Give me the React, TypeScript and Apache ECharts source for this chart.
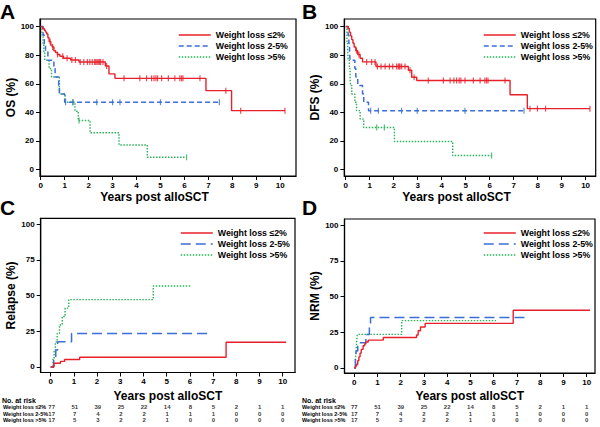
import React, { useEffect, useRef } from 'react';
import * as echarts from 'echarts';

// ---------- data ----------
const groups = ['Weight loss ≤2%', 'Weight loss 2-5%', 'Weight loss >5%'];
const xTicks = [0, 1, 2, 3, 4, 5, 6, 7, 8, 9, 10];
const yTicksSurv = [0, 20, 40, 60, 80, 100];
const yTicksCum = [0, 25, 50, 75, 100];

// OS (Kaplan-Meier steps: [years, %])
const osLow = [[0,100],[0.08,98.7],[0.15,97.4],[0.2,96.1],[0.25,94.8],[0.3,92.2],[0.35,89.6],[0.42,87],[0.48,85.7],[0.55,83.1],[0.62,81.8],[0.7,80.5],[0.8,79.2],[0.95,77.9],[1.25,76.6],[1.6,75.2],[2.7,72.4],[2.85,66.9],[3.1,63.8],[6.9,55.2],[7.97,41.2],[10.2,41.2]];
const osMid = [[0,100],[0.1,94.1],[0.15,88.2],[0.2,82.4],[0.3,76.5],[0.55,70.6],[0.6,64.7],[0.75,58.8],[0.78,52.9],[1.0,47.1],[7.46,47.1]];
const osHigh = [[0,100],[0.05,94.1],[0.1,88.2],[0.13,82.4],[0.17,76.5],[0.35,70.6],[0.45,64.7],[0.78,52.9],[1.02,47.1],[1.43,40.8],[1.57,34.3],[2.06,25.7],[3.27,17.2],[4.45,8.6],[6.09,8.6]];
const osLowCens = [0.39,0.5,0.7,0.92,1.1,1.3,1.45,1.65,1.8,1.95,2.05,2.15,2.25,2.3,2.35,2.4,2.45,2.5,2.6,2.75,3.48,4.14,4.42,4.63,4.73,4.81,4.88,5.05,5.33,5.6,5.81,5.88,5.94,6.65,7.73,8.35,10.2];
const osMidCens = [1.04,1.34,2.34,3.0,3.31,5.0,7.46];
const osHighCens = [1.35,1.6,6.09];

// DFS
const dfsLow = [[0,100],[0.1,98.7],[0.15,96.1],[0.2,93.5],[0.25,90.9],[0.3,88.3],[0.35,85.7],[0.42,83.1],[0.5,80.5],[0.6,77.9],[0.7,75.3],[1.26,72.1],[2.61,69.5],[2.75,64.6],[2.96,62.3],[6.85,52.3],[7.57,42.6],[10.18,42.6]];
const dfsMid = [[0,100],[0.1,94.1],[0.13,88.2],[0.16,82.4],[0.18,76.5],[0.38,70.6],[0.42,64.7],[0.5,58.8],[0.7,52.9],[0.75,47.1],[0.95,41.2],[7.43,41.2]];
const dfsHigh = [[0,100],[0.05,88.2],[0.08,82.4],[0.1,76.5],[0.15,70.6],[0.18,64.7],[0.2,58.8],[0.25,52.9],[0.38,47.1],[0.45,41.2],[0.6,35.3],[0.75,29.4],[2.03,19.6],[4.46,9.8],[6.08,9.8]];
const dfsLowCens = [0.45,0.55,0.87,1.08,1.22,1.32,1.47,1.64,1.82,1.96,2.12,2.19,2.23,2.26,2.33,2.47,2.68,2.85,3.44,4.07,4.35,4.51,4.62,4.73,4.8,4.97,5.32,5.6,5.8,5.87,5.93,6.64,7.68,7.99,8.33,10.18];
const dfsMidCens = [1.04,1.36,2.33,2.98,4.97,7.43];
const dfsHighCens = [1.29,1.61,6.08];

// Relapse (cumulative incidence)
const relLow = [[0,0],[0.14,2.6],[0.42,3.9],[0.6,5.2],[1.25,6.8],[7.56,17.3],[10.15,17.3]];
const relMid = [[0,0],[0.13,5.9],[0.22,11.8],[0.3,17.6],[0.9,23.5],[6.94,23.5]];
const relHigh = [[0,0],[0.1,5.9],[0.15,11.8],[0.2,17.6],[0.28,23.5],[0.38,29.4],[0.5,35.3],[0.62,41.2],[0.78,47.1],[4.42,56.6],[6.07,56.6]];

// NRM
const nrmLow = [[0,0],[0.05,1.3],[0.1,2.6],[0.15,5.2],[0.2,7.8],[0.25,10.4],[0.3,13],[0.38,15.6],[0.45,16.9],[0.5,18.2],[0.6,19.5],[1.25,21.3],[2.68,23.1],[2.75,26],[2.85,28.7],[3.05,31.2],[6.84,40.4],[10.15,40.4]];
const nrmMid = [[0,0],[0.05,5.9],[0.08,11.8],[0.15,17.6],[0.5,23.5],[0.65,29.4],[0.7,35.3],[7.39,35.3]];
const nrmHigh = [[0,0],[0.05,5.9],[0.08,11.8],[0.1,17.6],[0.13,23.5],[2.04,33.1],[6.1,33.1]];

// numbers at risk
const riskLow = [77, 51, 39, 25, 22, 14, 8, 5, 2, 1, 1];
const riskMid = [17, 7, 4, 2, 2, 1, 1, 1, 0, 0, 0];
const riskHigh = [17, 5, 3, 2, 2, 1, 0, 0, 0, 0, 0];

// ---------- styling / layout ----------
const FONT = '"Liberation Sans", Arial, Helvetica, sans-serif';
const COLORS = ['#e8202a', '#3c6ed6', '#2bb35a'];
const WIDTHS = [1.4, 1.5, 1.4];

function stepAt(steps: number[][], t: number): number {
  let v = steps[0][1];
  for (const [x, y] of steps) {
    if (x <= t) v = y;
    else break;
  }
  return v;
}

const panels = [
  { letter: 'A', lx: 0, ly: 11, grid: { left: 40, top: 19, width: 256, height: 157 }, xMin: -0.03, xMax: 10.66, yMin: -4.5, yMax: 105.3, yTicks: yTicksSurv, yName: 'OS (%)', curves: [osLow, osMid, osHigh], cens: [osLowCens, osMidCens, osHighCens], legend: { left: 173, top: 25.5 }, dash: [5, 3], nameGap: 15, yNameGap: 17, namePad: 27 },
  { letter: 'B', lx: 302, ly: 11, grid: { left: 344.3, top: 19, width: 251.4, height: 157 }, xMin: -0.06, xMax: 10.42, yMin: -4.5, yMax: 105.3, yTicks: yTicksSurv, yName: 'DFS (%)', curves: [dfsLow, dfsMid, dfsHigh], cens: [dfsLowCens, dfsMidCens, dfsHighCens], legend: { left: 478, top: 25.5 }, dash: [5, 3], nameGap: 15, yNameGap: 17, namePad: 27 },
  { letter: 'C', lx: 0, ly: 207, grid: { left: 40.7, top: 218.3, width: 254.3, height: 154.2 }, xMin: -0.43, xMax: 10.53, yMin: -3.85, yMax: 104, yTicks: yTicksCum, yName: 'Relapse (%)', curves: [relLow, relMid, relHigh], cens: null, legend: { left: 175, top: 223.5 }, dash: [10, 5], nameGap: 17, yNameGap: 19, namePad: 0 },
  { letter: 'D', lx: 302, ly: 207, grid: { left: 344.5, top: 219, width: 250.5, height: 154 }, xMin: -0.42, xMax: 10.36, yMin: -3.5, yMax: 104.2, yTicks: yTicksCum, yName: 'NRM (%)', curves: [nrmLow, nrmMid, nrmHigh], cens: null, legend: { left: 478, top: 223.5 }, dash: [10, 5], nameGap: 17, yNameGap: 19, namePad: 0 },
];

const riskTables = [
  { panel: 2, top: 403.5, height: 20, labelX: 2, noteY: 400 },
  { panel: 3, top: 403.5, height: 20, labelX: 302, noteY: 400 },
];

function lineType(p: any, k: number): any {
  return k === 0 ? 'solid' : k === 1 ? p.dash : [1.5, 1.5];
}

function buildOption() {
  const grid: any[] = [];
  const xAxis: any[] = [];
  const yAxis: any[] = [];
  const series: any[] = [];
  const legend: any[] = [];
  const graphic: any[] = [];
  const tickFont = { fontFamily: FONT, fontWeight: 'bold', fontSize: 8, color: '#000' };

  panels.forEach((p, gi) => {
    grid.push({ ...p.grid, show: true, borderColor: '#000', borderWidth: 1.2, backgroundColor: 'transparent' });
    xAxis.push({
      gridIndex: gi, type: 'value', min: p.xMin, max: p.xMax,
      name: 'Years post alloSCT', nameLocation: 'middle', nameGap: p.nameGap,
      nameTextStyle: { fontFamily: FONT, fontWeight: 'bold', fontSize: 12, color: '#000', padding: [0, p.namePad, 0, 0] },
      axisLine: { show: true, onZero: false, lineStyle: { color: '#000', width: 1.2 } },
      axisTick: { show: true, length: 4, customValues: xTicks, lineStyle: { color: '#000', width: 1 } },
      axisLabel: { ...tickFont, margin: 5, customValues: xTicks },
      splitLine: { show: false },
    });
    yAxis.push({
      gridIndex: gi, type: 'value', min: p.yMin, max: p.yMax,
      name: p.yName, nameLocation: 'middle', nameGap: p.yNameGap, nameRotate: 90,
      nameTextStyle: { fontFamily: FONT, fontWeight: 'bold', fontSize: 12, color: '#000' },
      axisLine: { show: true, onZero: false, lineStyle: { color: '#000', width: 1.2 } },
      axisTick: { show: true, length: 4, customValues: p.yTicks, lineStyle: { color: '#000', width: 1 } },
      axisLabel: { ...tickFont, margin: 6, customValues: p.yTicks },
      splitLine: { show: false },
    });
    p.curves.forEach((c, k) => {
      series.push({
        type: 'line', name: groups[k], xAxisIndex: gi, yAxisIndex: gi, data: c, step: 'end',
        symbol: 'none', z: 5 - k,
        lineStyle: { color: COLORS[k], width: WIDTHS[k], type: lineType(p, k) },
        itemStyle: { color: COLORS[k] },
      });
      if (p.cens) {
        series.push({
          type: 'scatter', name: 'cens' + gi + '_' + k, xAxisIndex: gi, yAxisIndex: gi,
          data: p.cens[k].map((t) => [t, stepAt(c, t)]),
          symbol: 'rect', symbolSize: [1.2, 6], z: 6 - k,
          itemStyle: { color: COLORS[k] },
        });
      }
    });
    legend.push({
      orient: 'vertical', left: p.legend.left, top: p.legend.top, itemWidth: 32, itemHeight: 9, itemGap: 2,
      selectedMode: false,
      textStyle: { fontFamily: FONT, fontWeight: 'bold', fontSize: 8.8, color: '#000' },
      data: groups.map((g, k) => ({
        name: g,
        itemStyle: { color: 'transparent', borderWidth: 0, opacity: 0 },
        lineStyle: { color: COLORS[k], width: WIDTHS[k], type: lineType(p, k), opacity: 1 },
      })),
    });
    graphic.push({
      type: 'text', x: p.lx, y: p.ly,
      style: { text: p.letter, fontFamily: FONT, fontWeight: 'bold', fontSize: 21, fill: '#000', textVerticalAlign: 'middle', textAlign: 'left' },
    });
  });

  const riskRows = [riskLow, riskMid, riskHigh];
  riskTables.forEach((r) => {
    const p = panels[r.panel];
    const gi = grid.length;
    grid.push({ left: p.grid.left, width: p.grid.width, top: r.top, height: r.height, show: false });
    xAxis.push({ gridIndex: gi, type: 'value', min: p.xMin, max: p.xMax, show: false });
    yAxis.push({
      gridIndex: gi, type: 'category', data: groups, inverse: true,
      axisLine: { show: false }, axisTick: { show: false }, splitLine: { show: false },
      axisLabel: { show: true, interval: 0, align: 'left', margin: p.grid.left - r.labelX, fontFamily: FONT, fontWeight: 'bold', fontSize: 5.5, color: '#000' },
    });
    riskRows.forEach((row, k) => {
      series.push({
        type: 'scatter', name: 'risk' + gi + '_' + k, xAxisIndex: gi, yAxisIndex: gi,
        data: row.map((n, i) => [xTicks[i], groups[k], n]),
        symbolSize: 1, itemStyle: { color: 'transparent' },
        label: {
          show: true, position: 'inside', offset: [2, 0],
          formatter: (q: any) => String(q.value[2]),
          fontFamily: FONT, fontWeight: 'bold', fontSize: 6, color: '#000',
        },
        labelLayout: { hideOverlap: false },
      });
    });
    graphic.push({
      type: 'text', x: r.labelX, y: r.noteY,
      style: { text: 'No. at risk', fontFamily: FONT, fontWeight: 'bold', fontSize: 7, fill: '#000', textVerticalAlign: 'middle', textAlign: 'left' },
    });
  });

  return { animation: false, backgroundColor: '#fff', grid, xAxis, yAxis, series, legend, graphic };
}

export default function App() {
  const ref = useRef<HTMLDivElement>(null);
  useEffect(() => {
    if (!ref.current) return;
    const chart = echarts.init(ref.current, null, { renderer: 'svg' });
    chart.setOption(buildOption() as any);
    return () => chart.dispose();
  }, []);
  return <div ref={ref} style={{ position: 'fixed', left: 0, top: 0, width: 600, height: 427, background: '#fff' }} />;
}
